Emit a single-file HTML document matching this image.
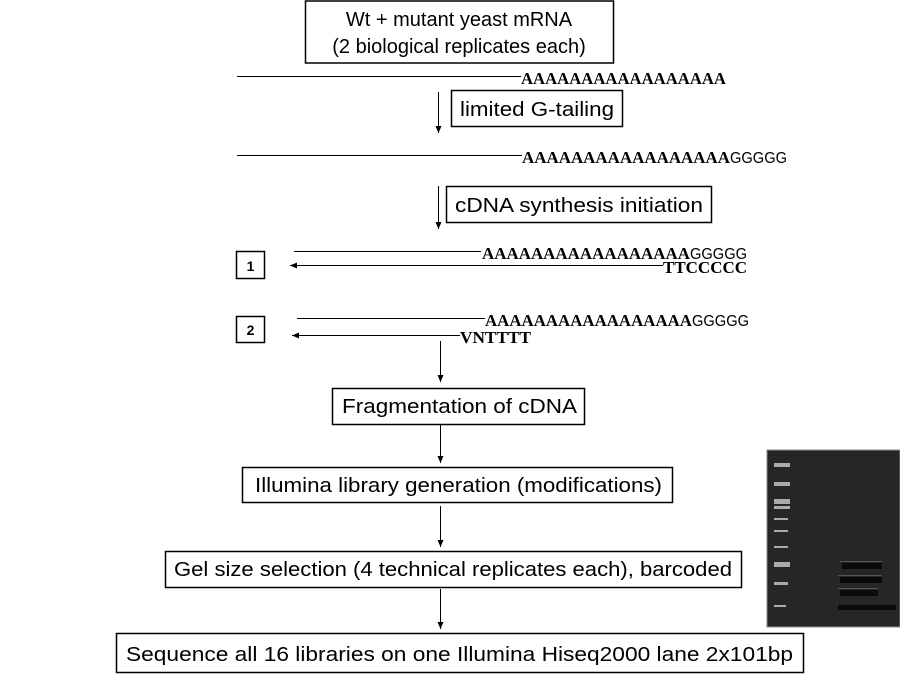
<!DOCTYPE html>
<html><head><meta charset="utf-8"><style>
html,body{margin:0;padding:0;background:#fff;}
svg{display:block;}
.b{font-family:"Liberation Sans",Arial,sans-serif;font-size:20px;fill:#000;}
.m{font-family:"Liberation Serif","Courier New",serif;font-weight:bold;font-size:17px;fill:#000;}
.g{font-family:"Liberation Sans",Arial,sans-serif;font-size:16px;fill:#000;}
</style></head><body>
<svg width="900" height="675" viewBox="0 0 900 675">
<defs><marker id="ah" markerWidth="8" markerHeight="8" refX="7" refY="4" orient="auto" markerUnits="userSpaceOnUse"><path d="M0,1 L7,4 L0,7 Z" fill="#000"/></marker></defs>
<g stroke="#000" fill="none" stroke-width="1.5">
<rect x="305.5" y="1" width="308" height="62"/>
<rect x="451.5" y="90.5" width="171" height="36"/>
<rect x="446.5" y="186.5" width="265" height="36"/>
<rect x="236.5" y="251.5" width="28" height="27"/>
<rect x="236.5" y="316.5" width="28" height="26"/>
<rect x="332.5" y="388.5" width="252" height="36"/>
<rect x="242.5" y="467.5" width="430" height="35"/>
<rect x="165.5" y="551.5" width="576" height="36"/>
<rect x="116.5" y="633.5" width="687" height="39"/>
</g>
<g stroke="#000" stroke-width="1">
<line x1="237" y1="76.5" x2="521" y2="76.5"/>
<line x1="237" y1="155.5" x2="522" y2="155.5"/>
<line x1="294" y1="251.5" x2="481" y2="251.5"/>
<line x1="663" y1="265.5" x2="290" y2="265.5" marker-end="url(#ah)"/>
<line x1="297" y1="318.5" x2="485" y2="318.5"/>
<line x1="460" y1="335.5" x2="292" y2="335.5" marker-end="url(#ah)"/>
<line x1="438.5" y1="92" x2="438.5" y2="133" marker-end="url(#ah)"/>
<line x1="438.5" y1="186" x2="438.5" y2="229" marker-end="url(#ah)"/>
<line x1="440.5" y1="341" x2="440.5" y2="382" marker-end="url(#ah)"/>
<line x1="440.5" y1="425" x2="440.5" y2="463" marker-end="url(#ah)"/>
<line x1="440.5" y1="506" x2="440.5" y2="547" marker-end="url(#ah)"/>
<line x1="440.5" y1="589" x2="440.5" y2="629" marker-end="url(#ah)"/>
</g>
<text class="b" x="459" y="26" text-anchor="middle">Wt + mutant yeast mRNA</text>
<text class="b" x="459" y="53" text-anchor="middle">(2 biological replicates each)</text>
<text class="m" x="521" y="84" textLength="205" lengthAdjust="spacingAndGlyphs">AAAAAAAAAAAAAAAAA</text>
<text class="b" x="460" y="116" textLength="154" lengthAdjust="spacingAndGlyphs">limited G-tailing</text>
<text class="m" x="522" y="163" textLength="208" lengthAdjust="spacingAndGlyphs">AAAAAAAAAAAAAAAAA</text>
<text class="g" x="730" y="163" textLength="57" lengthAdjust="spacingAndGlyphs">GGGGG</text>
<text class="b" x="455" y="212" textLength="248" lengthAdjust="spacingAndGlyphs">cDNA synthesis initiation</text>
<text class="b" x="250.5" y="271" text-anchor="middle" style="font-size:14px;font-weight:bold">1</text>
<text class="m" x="482" y="259" textLength="208" lengthAdjust="spacingAndGlyphs">AAAAAAAAAAAAAAAAA</text>
<text class="g" x="690" y="259" textLength="57" lengthAdjust="spacingAndGlyphs">GGGGG</text>
<text class="m" x="663" y="273" textLength="84" lengthAdjust="spacingAndGlyphs">TTCCCCC</text>
<text class="b" x="250.5" y="335" text-anchor="middle" style="font-size:14px;font-weight:bold">2</text>
<text class="m" x="485" y="326" textLength="207" lengthAdjust="spacingAndGlyphs">AAAAAAAAAAAAAAAAA</text>
<text class="g" x="692" y="326" textLength="57" lengthAdjust="spacingAndGlyphs">GGGGG</text>
<text class="m" x="460" y="343" textLength="71" lengthAdjust="spacingAndGlyphs">VNTTTT</text>
<text class="b" x="342" y="413" textLength="235" lengthAdjust="spacingAndGlyphs">Fragmentation of cDNA</text>
<text class="b" x="255" y="492" textLength="407" lengthAdjust="spacingAndGlyphs">Illumina library generation (modifications)</text>
<text class="b" x="174" y="576" textLength="558" lengthAdjust="spacingAndGlyphs">Gel size selection (4 technical replicates each), barcoded</text>
<text class="b" x="126" y="661" textLength="667" lengthAdjust="spacingAndGlyphs">Sequence all 16 libraries on one Illumina Hiseq2000 lane 2x101bp</text>
<g>
<rect x="767" y="450" width="133" height="177" fill="#262626" stroke="#888" stroke-width="1"/>
<g fill="#aaa">
<rect x="774" y="463" width="16" height="4"/><rect x="774" y="482" width="16" height="4"/>
<rect x="774" y="499" width="16" height="5"/><rect x="774" y="506" width="16" height="3"/>
<rect x="774" y="518" width="14" height="2"/><rect x="774" y="530" width="14" height="2"/>
<rect x="774" y="546" width="14" height="2"/><rect x="774" y="562" width="16" height="5"/>
<rect x="774" y="582" width="14" height="3"/><rect x="774" y="605" width="12" height="2"/>
</g>
<g fill="#0a0a0a">
<rect x="842" y="563" width="40" height="6"/><rect x="840" y="577" width="42" height="6"/>
<rect x="840" y="590" width="38" height="6"/><rect x="838" y="605" width="58" height="5"/>
</g>
<g fill="#555"><rect x="840" y="561" width="42" height="1"/><rect x="838" y="575" width="44" height="1"/><rect x="838" y="588" width="40" height="1"/></g>
</g>
</svg>
</body></html>
